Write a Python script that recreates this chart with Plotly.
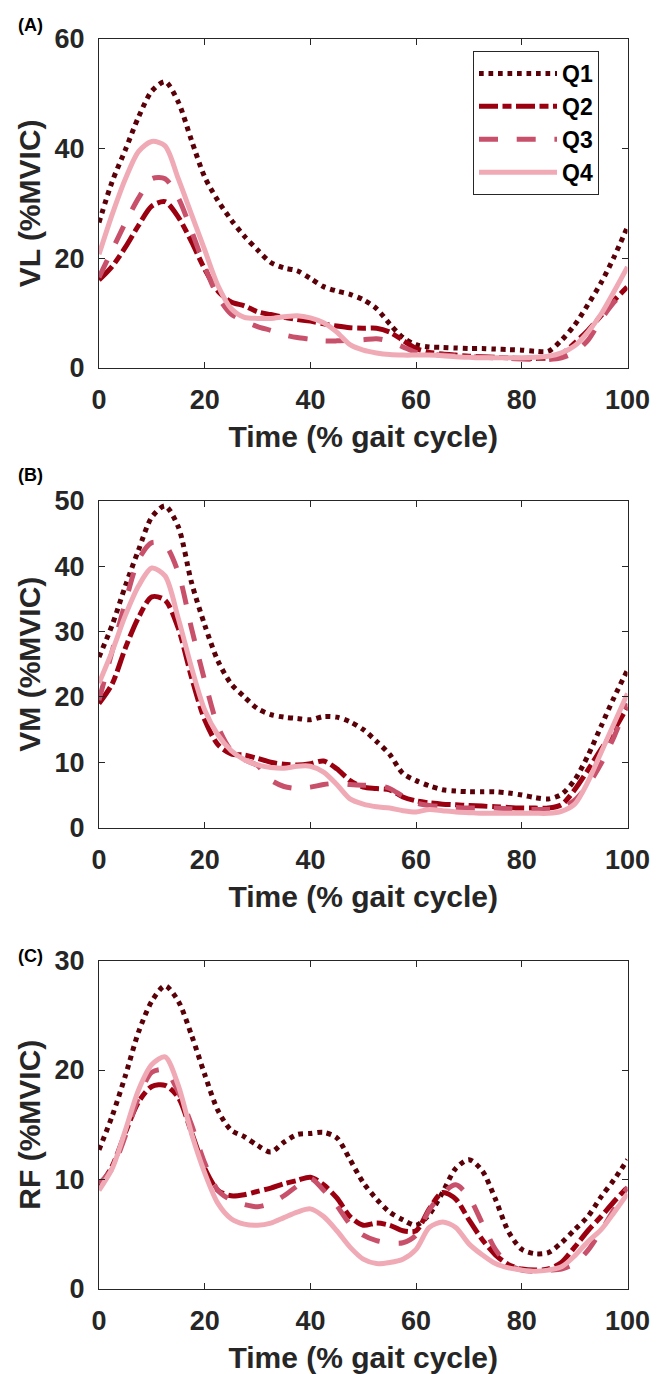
import plotly.graph_objects as go

# ---------------- data ----------------
time_pct = [0, 2.5, 5, 7.5, 10, 12.5, 15, 17.5, 20, 22.5, 25, 27.5, 30, 32.5, 35, 37.5,
            40, 42.5, 45, 47.5, 50, 52.5, 55, 57.5, 60, 62.5, 65, 67.5, 70, 72.5, 75,
            77.5, 80, 82.5, 85, 87.5, 90, 92.5, 95, 97.5, 100]

quartiles = ["Q1", "Q2", "Q3", "Q4"]

# (A) VL
vl_q1 = [26.5, 34.0, 39.8, 45.8, 50.5, 52.2, 48.5, 41.5, 34.8, 30.5, 27.0, 24.0, 21.5, 19.2,
         18.2, 17.7, 16.3, 14.8, 14.0, 13.4, 12.4, 10.8, 8.0, 5.5, 4.2, 3.8, 3.7, 3.6, 3.5,
         3.5, 3.4, 3.3, 3.2, 3.0, 3.0, 5.0, 7.8, 11.5, 15.5, 20.3, 25.7]
vl_q2 = [16.0, 18.5, 22.0, 26.0, 29.5, 30.3, 27.5, 23.0, 18.0, 14.0, 12.0, 11.3, 10.2, 9.7,
         9.2, 8.8, 8.5, 8.0, 7.6, 7.3, 7.2, 7.2, 6.5, 5.0, 3.5, 2.8, 2.5, 2.3, 2.1, 2.0, 1.9,
         1.8, 1.7, 1.7, 1.8, 2.5, 4.5, 6.8, 9.5, 12.3, 14.8]
vl_q3 = [16.5, 21.5, 26.5, 31.0, 34.5, 34.5, 31.0, 25.0, 18.5, 13.0, 9.8, 8.5, 7.5, 6.8, 6.0,
         5.5, 5.2, 4.9, 4.9, 5.0, 5.1, 5.3, 4.8, 3.8, 2.8, 2.5, 2.3, 2.2, 2.0, 1.9, 1.8, 1.7,
         1.6, 1.5, 1.5, 1.8, 2.8, 5.0, 8.8, 12.0, 14.5]
vl_q4 = [20.7, 28.0, 34.5, 39.5, 41.3, 40.5, 34.5, 28.0, 21.5, 15.0, 10.8, 9.2, 9.0, 9.0, 9.3,
         9.5, 9.1, 8.2, 6.5, 4.2, 3.2, 2.7, 2.4, 2.3, 2.3, 2.3, 2.2, 2.0, 1.9, 1.8, 1.8, 1.8,
         1.8, 1.9, 2.1, 2.7, 4.0, 6.5, 9.8, 14.0, 18.4]

# (B) VM
vm_q1 = [26.1, 31.0, 37.0, 42.5, 47.5, 49.2, 46.0, 37.5, 31.0, 25.5, 22.0, 20.0, 18.2, 17.3,
         16.9, 16.7, 16.5, 17.0, 16.9, 16.2, 15.0, 13.2, 11.2, 8.3, 7.2, 6.4, 5.8, 5.6, 5.5,
         5.5, 5.5, 5.3, 5.0, 4.6, 4.4, 5.1, 7.3, 11.0, 15.5, 20.0, 24.1]
vm_q2 = [19.0, 22.0, 27.5, 32.2, 35.3, 34.8, 30.5, 23.0, 16.5, 12.7, 11.3, 11.1, 10.6, 10.0,
         9.7, 9.6, 9.8, 10.2, 9.0, 7.2, 6.2, 6.0, 5.8, 4.7, 4.1, 3.8, 3.6, 3.5, 3.4, 3.3, 3.2,
         3.1, 3.0, 3.0, 3.0, 3.5, 5.8, 8.8, 12.0, 15.0, 18.5]
vm_q3 = [19.5, 27.0, 34.5, 41.0, 43.6, 43.2, 39.0, 30.5, 22.5, 15.5, 11.8, 10.4, 9.5, 7.3,
         6.3, 6.0, 6.2, 6.6, 6.8, 6.6, 6.5, 6.5, 6.0, 4.8, 3.8, 3.4, 3.2, 3.1, 3.0, 3.0, 3.0,
         2.9, 2.8, 2.8, 2.8, 3.0, 4.2, 6.5, 9.8, 14.0, 19.0]
vm_q4 = [22.1, 27.0, 32.5, 37.0, 39.7, 38.5, 32.0, 24.5, 18.0, 14.2, 11.8, 10.4, 9.6, 9.2,
         9.1, 9.4, 9.4, 8.5, 6.6, 4.4, 3.6, 3.2, 3.0, 2.6, 2.4, 2.8, 2.6, 2.4, 2.3, 2.2, 2.2,
         2.2, 2.2, 2.2, 2.2, 2.5, 3.6, 7.0, 11.5, 16.0, 20.5]

# (C) RF
rf_q1 = [12.7, 15.8, 19.5, 23.5, 26.3, 27.7, 26.3, 23.2, 19.6, 16.3, 14.5, 13.9, 13.1, 12.5,
         13.4, 14.1, 14.2, 14.3, 13.8, 11.8, 9.7, 8.2, 7.0, 6.3, 5.8, 6.8, 8.8, 11.0, 11.8,
         10.8, 8.2, 5.2, 3.6, 3.2, 3.3, 4.2, 5.4, 6.6, 8.4, 10.0, 11.8]
rf_q2 = [9.3, 11.2, 14.3, 17.1, 18.5, 18.6, 17.5, 14.3, 11.0, 9.0, 8.5, 8.6, 8.9, 9.2, 9.6,
         9.9, 10.2, 9.5, 8.3, 6.6, 5.8, 6.0, 5.8, 5.3, 5.3, 7.3, 8.8, 8.2, 6.3, 4.5, 3.1, 2.2,
         1.8, 1.7, 1.8, 2.4, 3.8, 5.3, 6.6, 8.0, 9.3]
rf_q3 = [9.6, 11.0, 14.0, 17.5, 19.8, 20.0, 18.0, 15.0, 11.5, 9.0, 8.1, 7.7, 7.5, 7.8, 8.5,
         9.4, 10.1, 9.0, 7.6, 5.9, 4.9, 4.4, 4.2, 4.2, 4.9, 7.2, 8.7, 9.5, 8.4, 6.0, 3.6, 2.2,
         1.7, 1.6, 1.7, 1.8, 2.3, 3.5, 5.3, 7.3, 9.3]
rf_q4 = [9.0, 11.0, 14.5, 18.2, 20.5, 21.2, 18.6, 14.2, 10.6, 7.8, 6.4, 5.9, 5.8, 6.0, 6.5,
         7.0, 7.3, 6.6, 5.3, 3.8, 2.7, 2.3, 2.4, 2.7, 3.6, 5.6, 6.1, 5.6, 4.1, 3.1, 2.3, 1.9,
         1.7, 1.6, 1.7, 2.0, 3.0, 4.3, 5.4, 7.0, 8.7]

panel_labels = ["(A)", "(B)", "(C)"]
y_titles = ["VL (%MVIC)", "VM (%MVIC)", "RF (%MVIC)"]
y_ranges = [[0, 60], [0, 50], [0, 30]]
y_dticks = [20, 10, 10]
x_title = "Time (% gait cycle)"
x_ticks = [0, 20, 40, 60, 80, 100]

panels = [
    [vl_q1, vl_q2, vl_q3, vl_q4],
    [vm_q1, vm_q2, vm_q3, vm_q4],
    [rf_q1, rf_q2, rf_q3, rf_q4],
]

# ---------------- styles ----------------
W, H = 663, 1374
colors = ["#5a0008", "#9a0010", "#c8506a", "#f0aab6"]
dashes = ["4.7px,4.8px", "19px,4.5px,9px,4.5px", "19px,18.7px", "solid"]
LW = 5
AXC = "#262626"
FONT = "Liberation Sans, Arial, Helvetica, sans-serif"

# pixel boxes of the three plot areas (left, right, top, bottom)
x_left, x_right = 99, 627.5
boxes_y = [(39, 367.7), (500.7, 827.7), (960.7, 1288.7)]
label_y = [25, 474.5, 956.5]

fig = go.Figure()
for p, series in enumerate(panels):
    xa = "x" if p == 0 else f"x{p+1}"
    ya = "y" if p == 0 else f"y{p+1}"
    for q, vals in enumerate(series):
        fig.add_trace(go.Scatter(
            x=time_pct, y=vals, mode="lines", name=quartiles[q],
            xaxis=xa, yaxis=ya, showlegend=(p == 0),
            line=dict(color=colors[q], width=LW, dash=dashes[q],
                      shape="spline", smoothing=0.8),
        ))

layout = dict(
    width=W, height=H,
    margin=dict(l=0, r=0, t=0, b=0, autoexpand=False),
    paper_bgcolor="white", plot_bgcolor="white",
    font=dict(family=FONT, color=AXC),
    legend=dict(
        x=473 / W, y=1 - 51 / H, xanchor="left", yanchor="top",
        bgcolor="white", bordercolor=AXC, borderwidth=1,
        font=dict(family=FONT, size=23, color="black", weight="bold"),
        itemwidth=78, tracegroupgap=0,
    ),
    annotations=[],
)

for p in range(3):
    top, bot = boxes_y[p]
    sfx = "" if p == 0 else str(p + 1)
    common = dict(
        showgrid=False, zeroline=False, showline=True, linecolor=AXC, linewidth=1,
        mirror="ticks", ticks="inside", ticklen=6, tickwidth=1, tickcolor=AXC,
        automargin=False,
        tickfont=dict(family=FONT, size=27, color=AXC, weight="bold"),
    )
    layout["xaxis" + sfx] = dict(
        common, domain=[x_left / W, x_right / W], range=[0, 100],
        tickmode="array", tickvals=x_ticks, anchor="y" + sfx,
        ticklabelstandoff=8,
        title=dict(text=x_title, standoff=11,
                   font=dict(family=FONT, size=30, color=AXC, weight="bold")),
    )
    layout["yaxis" + sfx] = dict(
        common, domain=[1 - bot / H, 1 - top / H], range=y_ranges[p],
        dtick=y_dticks[p], anchor="x" + sfx, ticklabelstandoff=8,
        title=dict(text=y_titles[p], standoff=5,
                   font=dict(family=FONT, size=30, color=AXC, weight="bold")),
    )
    layout["annotations"].append(dict(
        text=panel_labels[p], xref="paper", yref="paper",
        x=16 / W, y=1 - label_y[p] / H, xanchor="left", yanchor="middle",
        showarrow=False, font=dict(family=FONT, size=18, color="black", weight="bold"),
    ))

fig.update_layout(**layout)
fig.write_html(
    "out.html",
    config={"displayModeBar": False},
    post_script="document.body.style.margin='0';document.body.style.padding='0';"
                "document.body.style.overflow='hidden';",
)
